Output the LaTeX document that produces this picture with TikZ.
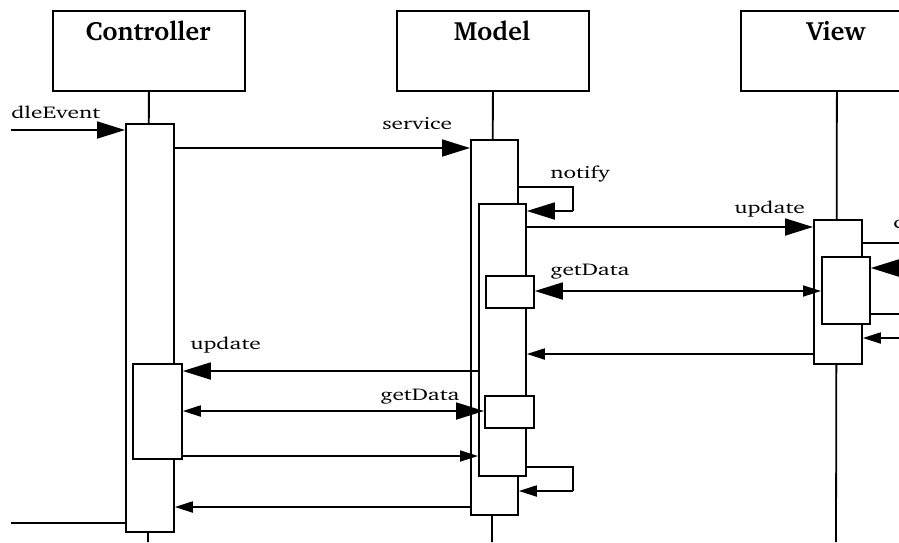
\documentclass[tikz,border=0pt]{standalone}
\usepackage[T1]{fontenc}
\usepackage{charter}
\usetikzlibrary{arrows.meta}
\tikzset{
  ln/.style={line width=1.8pt},
  objbox/.style={draw, line width=1.8pt, fill=white, anchor=north west, inner sep=0pt, minimum width=192pt, minimum height=80pt},
  actbox/.style={draw, line width=1.8pt, fill=white, anchor=north west, inner sep=0pt},
  title/.style={font=\fontsize{26.4}{30}\selectfont\bfseries, inner sep=0pt, anchor=base},
  lbl/.style={font=\fontsize{17}{20}\selectfont, inner sep=0pt, anchor=base west, xscale=1.375, transform shape},
  big/.style={ln, -{Triangle[length=28pt,width=17pt]}},
  small/.style={ln, -{Triangle[length=18pt,width=11pt]}},
  bigsmall/.style={ln, {Triangle[length=18pt,width=11pt]}-{Triangle[length=28pt,width=17pt]}},
  smallbig/.style={ln, {Triangle[length=28pt,width=17pt]}-{Triangle[length=18pt,width=11pt]}},
}
\begin{document}
\begin{tikzpicture}[x=1pt,y=-1pt]
\useasboundingbox (0,0) rectangle (899,542);
\clip (0,0) rectangle (899,542);
% object boxes
\node[objbox] (C) at (52,10) {};
\node[objbox] (M) at (396,10) {};
\node[objbox] (V) at (740,10) {};
\node[title] (Ct) at (148,40) {Controller};
\node[title] (Mt) at (492,40) {Model};
\node[title] (Vt) at (836,40) {View};
% lifelines
\coordinate (Cend) at (148,542);
\coordinate (Mend) at (492,542);
\coordinate (Vend) at (836,542);
\draw[ln] (C.south) -- (Cend);
\draw[ln] (M.south) -- (Mend);
\draw[ln] (V.south) -- (Vend);
% activations
\node[actbox, minimum width=48pt, minimum height=408pt] (ca) at (125,123) {};
\node[actbox, minimum width=49pt, minimum height=95pt] (ci) at (132,363) {};
\node[actbox, minimum width=47pt, minimum height=375pt] (ma) at (470,139) {};
\node[actbox, minimum width=47pt, minimum height=272pt] (mi) at (478,203) {};
\node[actbox, minimum width=48pt, minimum height=32pt] (mg1) at (485,275) {};
\node[actbox, minimum width=49pt, minimum height=32pt] (mg2) at (484,395) {};
\node[actbox, minimum width=48pt, minimum height=144pt] (va) at (813,219) {};
\node[actbox, minimum width=48pt, minimum height=67pt] (vi) at (821,256) {};
% free ends
\coordinate (inL) at (11,130);
\coordinate (outL) at (11,523);
\coordinate (r1) at (905,243);
\coordinate (r2) at (905,268);
\coordinate (r3) at (905,314);
\coordinate (r4) at (905,338);
\coordinate (n1) at (573,187);
\coordinate (n2) at (573,211);
\coordinate (s1) at (573,467);
\coordinate (s2) at (573,491);
% messages
\draw[big] (inL) -- (ca.west |- inL);
\node[lbl] (l1) at (11,118) {dleEvent};
\draw[big] (ca.east |- 0,148) -- (ma.west |- 0,148);
\node[lbl] (l2) at (382,129) {service};
\draw[ln] (ma.east |- n1) -- (n1) -- (n2);
\draw[big] (n2) -- (mi.east |- n2);
\node[lbl] (l3) at (550,178) {notify};
\draw[big] (mi.east |- 0,227) -- (va.west |- 0,227);
\node[lbl] (l4) at (734,213) {update};
\draw[smallbig] (mg1.east |- 0,291) -- (vi.west |- 0,291);
\node[lbl] (l5) at (550,275) {getData};
\draw[ln] (va.east |- r1) -- (r1);
\node[lbl] (l6) at (893,228) {c};
\draw[big] (r2) -- (vi.east |- r2);
\draw[ln] (vi.east |- r3) -- (r3);
\draw[small] (r4) -- (va.east |- r4);
\draw[small] (va.west |- 0,354) -- (mi.east |- 0,354);
\draw[big] (mi.west |- 0,371) -- (ci.east |- 0,371);
\node[lbl] (l7) at (190,349) {update};
\draw[bigsmall] (ci.east |- 0,411) -- (mg2.west |- 0,411);
\node[lbl] (l8) at (380,400) {getData};
\draw[small] (ci.east |- 0,456) -- (mi.west |- 0,456);
\draw[ln] (mi.east |- s1) -- (s1) -- (s2);
\draw[small] (s2) -- (ma.east |- s2);
\draw[small] (ma.west |- 0,507) -- (ca.east |- 0,507);
\draw[ln] (outL) -- (ca.west |- outL);
\end{tikzpicture}
\end{document}
